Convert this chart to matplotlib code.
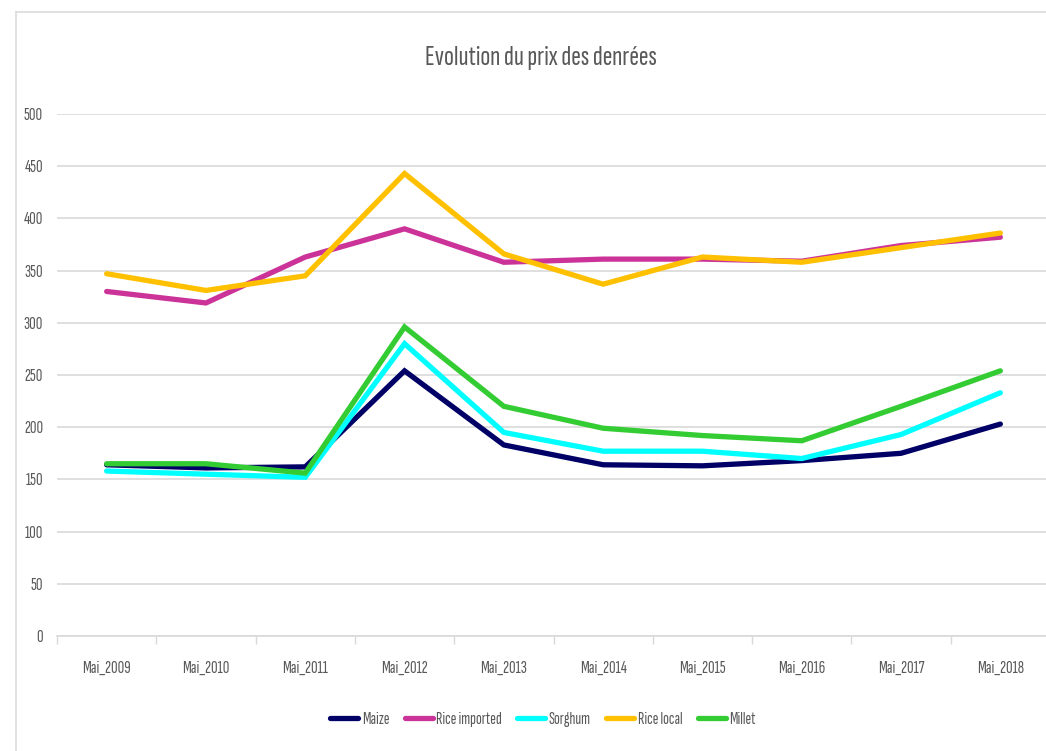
import matplotlib
matplotlib.use('Agg')
import matplotlib.pyplot as plt
from matplotlib.lines import Line2D
import numpy as np

years = ['Mai_2009', 'Mai_2010', 'Mai_2011', 'Mai_2012', 'Mai_2013',
         'Mai_2014', 'Mai_2015', 'Mai_2016', 'Mai_2017', 'Mai_2018']

maize = [164, 161, 162, 254, 183, 164, 163, 168, 175, 203]
rice_imported = [330, 319, 363, 390, 358, 361, 361, 359, 374, 382]
sorghum = [158, 155, 152, 280, 195, 177, 177, 170, 193, 233]
rice_local = [347, 331, 345, 443, 366, 337, 363, 358, 372, 386]
millet = [165, 165, 156, 296, 220, 199, 192, 187, 220, 254]

series = [('Maize', maize, '#000066'),
          ('Rice imported', rice_imported, '#CC3399'),
          ('Sorghum', sorghum, '#00FFFF'),
          ('Rice local', rice_local, '#FFC000'),
          ('Millet', millet, '#33CC33')]

plt.rcParams['font.family'] = ['Sofia Sans Extra Condensed', 'DejaVu Sans']
text_col = '#595959'
grid_col = '#d9d9d9'

fig = plt.figure(figsize=(10.46, 7.51), dpi=100)
ax = fig.add_axes([57/1046, 115/751, 993/1046, 522/751])

x = np.arange(len(years))
for name, vals, col in series:
    ax.plot(x, vals, color=col, lw=3.8, label=name, solid_capstyle='round', solid_joinstyle='miter')

ax.set_ylim(0, 500)
ax.set_yticks(range(0, 501, 50))
ax.set_xlim(-0.5, len(years) - 0.5)
ax.set_xticks(np.arange(len(years) + 1) - 0.5)
ax.set_xticklabels([])
ax.set_xticks(x, minor=True)
ax.set_xticklabels(years, minor=True)
ax.tick_params(axis='x', which='major', length=5.8, color=grid_col, width=1)
ax.tick_params(axis='x', which='minor', length=0, pad=18, labelsize=13, labelcolor=text_col)
ax.tick_params(axis='y', length=0, pad=10, labelsize=13, labelcolor=text_col)

ax.grid(axis='y', color=grid_col, lw=1.2)
ax.set_axisbelow(True)
for s in ['top', 'right', 'left']:
    ax.spines[s].set_visible(False)
ax.spines['bottom'].set_color(grid_col)
ax.spines['bottom'].set_linewidth(1.2)

fig.text(541/1046, 1 - 65/751, 'Evolution du prix des denrées', ha='center', va='baseline',
         fontsize=21, color=text_col)

fig.legend(loc='center', bbox_to_anchor=(543/1046, 1 - 719/751), ncol=5, frameon=False,
           fontsize=12.5, labelcolor=text_col, handlelength=1.6, handletextpad=0.2,
           columnspacing=0.9)

# light border around the chart area
fig.add_artist(Line2D([16/1046, 1], [1 - 11.5/751, 1 - 11.5/751], color=grid_col, lw=1.1,
                      transform=fig.transFigure))
fig.add_artist(Line2D([16/1046, 16/1046], [0, 1 - 11.5/751], color=grid_col, lw=1.1,
                      transform=fig.transFigure))

fig.savefig('out.png', dpi=100)
